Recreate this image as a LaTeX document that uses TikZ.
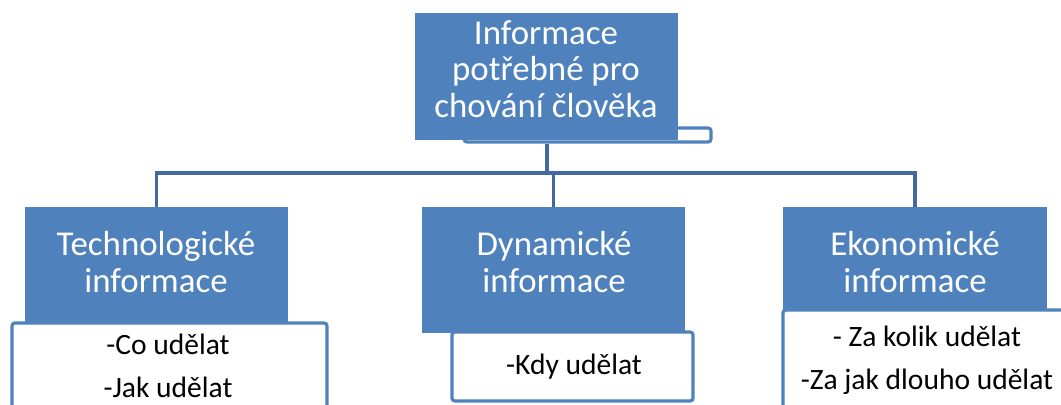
\documentclass[tikz,border=0pt]{standalone}
\usepackage{fontspec}
\setmainfont{Carlito}
\definecolor{boxblue}{RGB}{79,129,189}
\definecolor{lineblue}{RGB}{66,106,156}

\begin{document}
\begin{tikzpicture}[x=0.025cm,y=-0.025cm,
        headbox/.style={fill=boxblue,inner sep=0pt},
        headtext/.style={text=white,align=center,font=\fontsize{24.8}{25.8}\selectfont},
        listbox/.style={fill=white,draw=boxblue,line width=2.2pt,rounded corners=2pt,inner sep=0pt},
        listtext/.style={text=black,align=center,font=\fontsize{21}{30.5}\selectfont},
        link/.style={draw=lineblue,line width=2.8pt}]
            \useasboundingbox (0,0) rectangle (1061,405);
            % white boxes behind
            \node[listbox,minimum width=6.175cm,minimum height=0.35cm] (topstrip) at (587.5,135) {};
            \node[listbox,minimum width=7.875cm,minimum height=2.675cm] (techlist) at (169.5,376.5) {};
            \node[listbox,minimum width=6.025cm,minimum height=1.725cm] (dynlist) at (572.5,366.5) {};
            \node[listbox,minimum width=7.425cm,minimum height=3cm] (ekolist) at (931.5,370) {};
            % blue boxes
            \node[headbox,minimum width=6.575cm,minimum height=3.175cm] (top) at (546.5,76.5) {};
            \node[headbox,minimum width=6.575cm,minimum height=2.925cm] (tech) at (156.5,265.5) {};
            \node[headbox,minimum width=6.575cm,minimum height=3.15cm] (dyn) at (553.5,270) {};
            \node[headbox,minimum width=6.6cm,minimum height=2.575cm] (eko) at (915,258.5) {};
            % texts
            \node[headtext] (toplabel) at (546,69) {Informace\\potřebné pro\\chování člověka};
            \node[headtext] (techlabel) at (156,262) {Technologické\\informace};
            \node[headtext] (dynlabel) at (554,262) {Dynamické\\informace};
            \node[headtext] (ekolabel) at (915,262) {Ekonomické\\informace};
            \node[listtext] (techitems) at (168,366) {-Co udělat\\-Jak udělat};
            \node[listtext] (dynitems) at (574,367) {-Kdy udělat};
            \node[listtext] (ekoitems) at (927,360) {- Za kolik udělat\\-Za jak dlouho udělat};
            % connectors
            \coordinate (hub) at (547,173);
            \draw[link] (topstrip.south -| hub)--(hub);
            \draw[link] (hub) -| (tech.north);
            \draw[link] (hub) -| (dyn.north);
            \draw[link] (hub) -| (eko.north);
        \end{tikzpicture}
\end{document}
